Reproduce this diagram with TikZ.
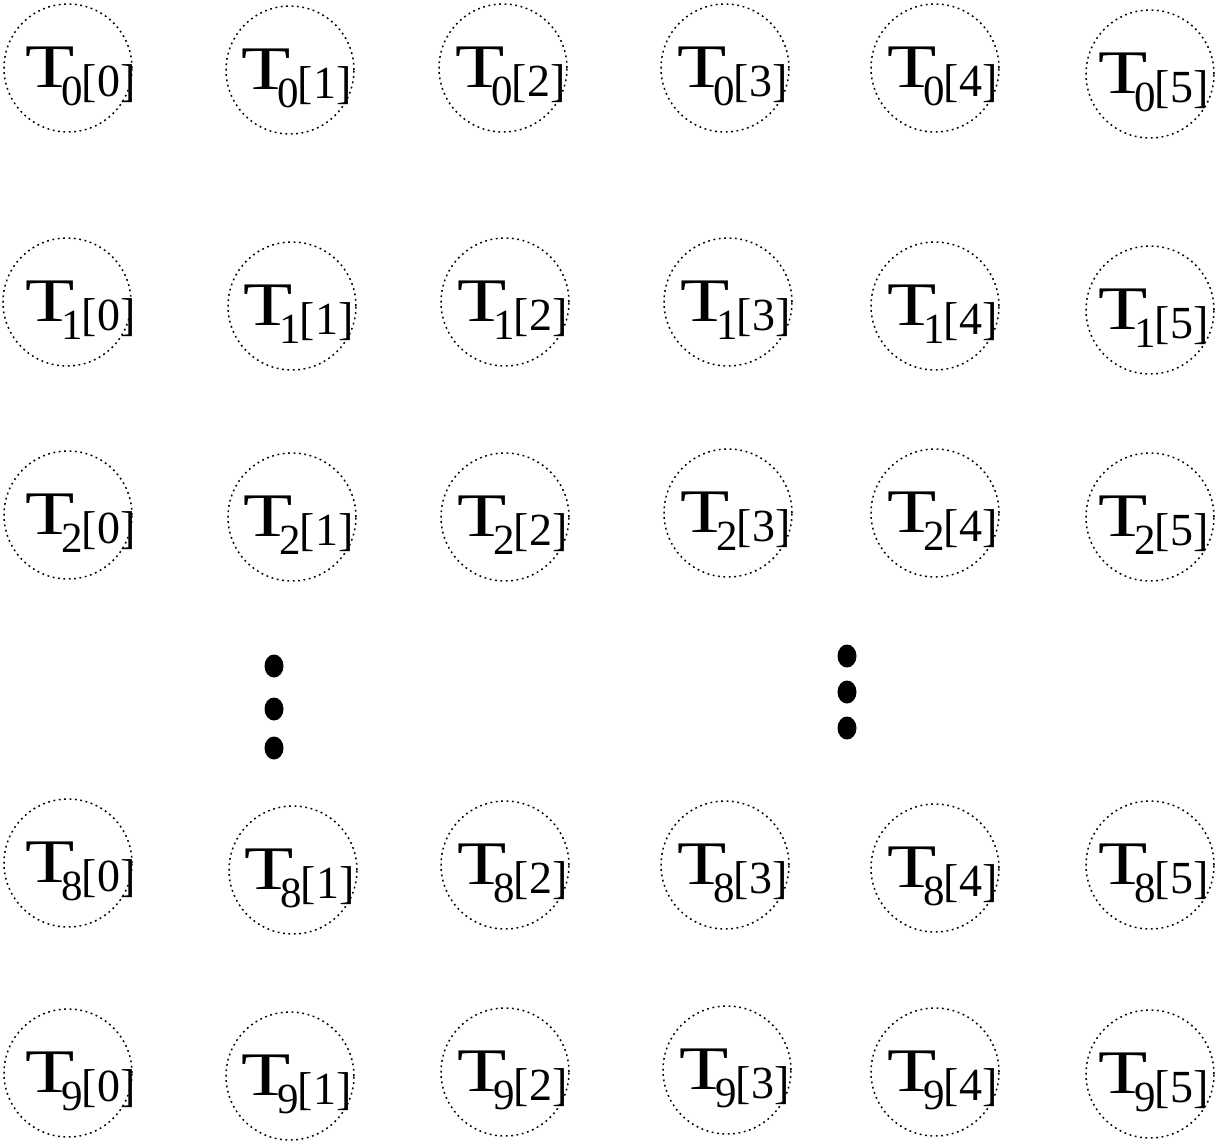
\documentclass[tikz,border=0pt]{standalone}
\usepackage{fontspec}
\usepackage{graphicx}
\usetikzlibrary{calc}
\setmainfont{Liberation Serif}
\newcommand\tlab[2]{\scalebox{1.3}[1]{\fontsize{62}{62}\selectfont T}\kern-13pt\raisebox{-18pt}{\fontsize{43}{43}\selectfont #1}\kern-1pt\raisebox{-9pt}{\fontsize{46}{46}\selectfont[#2]}}
\tikzset{
  cell/.style={circle, draw=black, line width=1.5pt, dash pattern=on 1.8pt off 3.6pt, minimum size=128pt, inner sep=0pt},
  lab/.style={anchor=base west, inner sep=0pt},
  bigdot/.style={fill=black}
}
\begin{document}
\begin{tikzpicture}[x=1pt,y=-1pt]
\useasboundingbox (0,0) rectangle (1225,1143);
% circles and labels: sub, col, cx, cy, label shift
\foreach \sub/\c/\cx/\cy/\dx in {
 0/0/68/68/1, 0/1/290/70/-5, 0/2/503/68/-4, 0/3/725/68/-4, 0/4/935/68/-4, 0/5/1150/74/-8,
 1/0/67/302/2, 1/1/292/306/-5, 1/2/505/302/-4, 1/3/728/302/-4, 1/4/935/306/-4, 1/5/1150/310/-8,
 2/0/68/515/1, 2/1/292/517/-5, 2/2/505/517/-4, 2/3/728/513/-4, 2/4/935/513/-4, 2/5/1150/517/-8,
 8/0/68/863/1, 8/1/293/870/-5, 8/2/505/865/-4, 8/3/725/865/-4, 8/4/935/868/-4, 8/5/1150/865/-8,
 9/0/68/1073/1, 9/1/290/1076/-5, 9/2/505/1072/-4, 9/3/727/1070/-4, 9/4/935/1072/-4, 9/5/1150/1074/-8}{
  \node[cell] (c\sub-\c) at (\cx,\cy) {};
  \node[lab] (l\sub-\c) at ($(\cx,\cy)+(-44+\dx,19)$) {\tlab{\sub}{\c}};
}
% vertical ellipsis dots
\foreach \x/\y in {274/666, 274/709, 274/748, 847/656, 847/692, 847/728}{
  \fill[bigdot] (\x,\y) ellipse (9.5 and 11.5);
}
\end{tikzpicture}
\end{document}
